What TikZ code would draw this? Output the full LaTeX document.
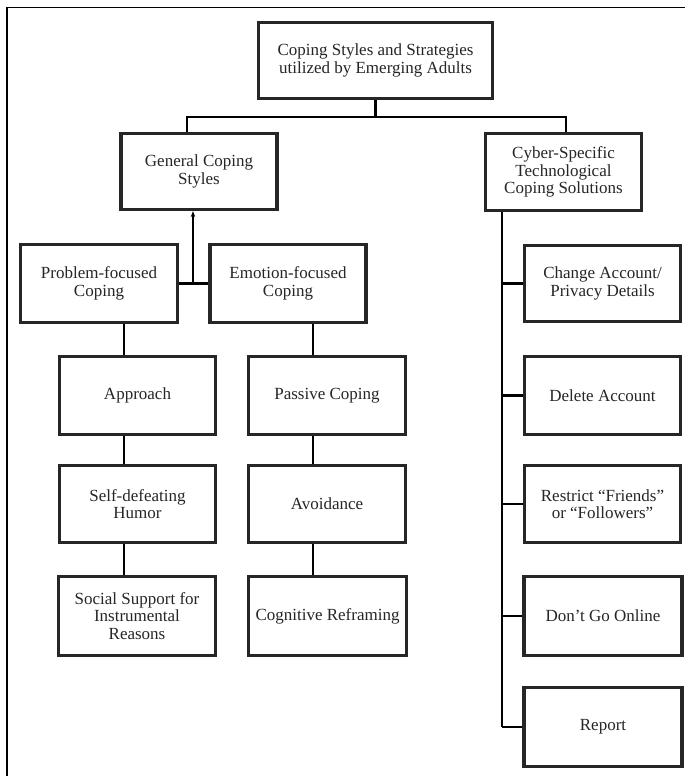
\documentclass[tikz,border=0pt]{standalone}
\usepackage{fontspec}
\setmainfont{Liberation Serif}
\usetikzlibrary{arrows.meta}
\begin{document}
\begin{tikzpicture}[x=1pt,y=-1pt,
  box/.style={draw=black!85, line width=3.2pt, fill=white, minimum width=156pt,
    minimum height=78pt, align=center, inner sep=2pt,
    font=\fontsize{17}{17.5}\selectfont, text=black!85},
  link/.style={draw=black, line width=2.3pt},
  frame/.style={draw=black, line width=1.6pt}]
\useasboundingbox (0,0) rectangle (685,776);
% outer frame (only left and top edges fall inside the page)
\draw[frame] (7,790) -- (7,7.5) -- (700,7.5);

% column positions of the vertical connectors
\coordinate (cl) at (124,0);
\coordinate (cr) at (313,0);
\coordinate (ct) at (502,0);
\coordinate (jt) at (375.5,117);

% root and its two branches
\node[box, minimum width=234pt, minimum height=76pt] (top) at (375.5,60.5)
  {Coping Styles and Strategies\\utilized by Emerging Adults};
\node[box, minimum height=76pt] (gen) at (199,171.5) {General Coping\\Styles};
\node[box, minimum height=77pt] (cyber) at (563.5,172)
  {Cyber-Specific\\Technological\\Coping Solutions};

% general coping styles
\node[box, minimum width=157pt] (prob) at (99,283.5) {Problem-focused\\Coping};
\node[box] (emo) at (288,283.5) {Emotion-focused\\Coping};
\node[box] (appr) at (137.5,395.5) {Approach};
\node[box, minimum width=157pt] (pass) at (327,395.5) {Passive Coping};
\node[box, minimum height=77pt] (self) at (137.5,504) {Self-defeating\\Humor};
\node[box, minimum width=157pt, minimum height=77pt] (avoid) at (327,504) {Avoidance};
\node[box, minimum width=157pt, minimum height=79pt] (social) at (137,616)
  {Social Support for\\Instrumental\\Reasons};
\node[box, minimum width=158pt, minimum height=79pt] (cogn) at (327.5,616)
  {Cognitive Reframing};

% cyber-specific solutions
\node[box, minimum height=76pt] (chg) at (602.5,283.5) {Change Account/\\Privacy Details};
\node[box] (del) at (602.5,395.5) {Delete Account};
\node[box, minimum height=77pt] (restr) at (602.5,504)
  {Restrict “Friends”\\or “Followers”};
\node[box, minimum width=158pt, minimum height=79pt] (dont) at (603,616) {Don’t Go Online};
\node[box, minimum width=158pt, minimum height=79pt] (report) at (603,727) {Report};

% root connectors
\draw[link] (top.south) -- (jt);
\draw[link] ([xshift=-12pt]gen.north) |- (jt) -| ([xshift=2.5pt]cyber.north);

% problem / emotion join, arrow up to general styles
\draw[link] (prob.east) -- (emo.west);
\coordinate (jg) at (193,283.5);
\draw[link, -{Stealth[length=6pt,width=4.5pt]}] (jg) -- (jg |- gen.south);

% left column chain
\draw[link] (prob.south -| cl) -- (appr.north -| cl);
\draw[link] (appr.south -| cl) -- (self.north -| cl);
\draw[link] (self.south -| cl) -- (social.north -| cl);

% right-of-left column chain
\draw[link] (emo.south -| cr) -- (pass.north -| cr);
\draw[link] (pass.south -| cr) -- (avoid.north -| cr);
\draw[link] (avoid.south -| cr) -- (cogn.north -| cr);

% cyber trunk and branches
\draw[link] (cyber.south -| ct) -- (report.west -| ct);
\foreach \n in {chg,del,restr,dont,report}
  \draw[link] (\n.west -| ct) -- (\n.west);
\end{tikzpicture}
\end{document}
